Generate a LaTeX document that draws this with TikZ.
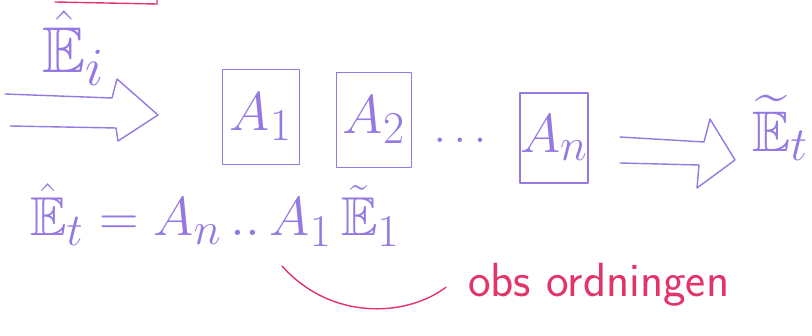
\documentclass[tikz,border=0pt]{standalone}
\usepackage{amsmath, amssymb}
\usepackage{graphicx}
\usepackage{tikz}
\usetikzlibrary{positioning, calc}
\usepackage{xcolor}
\definecolor{inkpurple}{HTML}{9479E3}
\definecolor{inkred}{HTML}{E3346A}
\newcommand{\inkbig}[2][2.2]{\scalebox{#1}{\Huge #2}}

\begin{document}
\begin{tikzpicture}[
      x=1pt, y=-1pt,
      pen/.style={draw=inkpurple, line width=1.4pt, line cap=round, line join=round},
      redpen/.style={draw=inkred, line width=1.4pt, line cap=round},
      op/.style={pen, inner sep=0pt, text=inkpurple},
      ink/.style={text=inkpurple, inner sep=0pt},
      note/.style={text=inkred, inner sep=0pt, font=\sffamily\fontsize{48}{54}\selectfont}
    ]
    \useasboundingbox (0,0) rectangle (812,336);
    % red box cut off at the top
    \draw[redpen] (55,2) -- (157,4) -- (157,-8);
    \node[ink] (ein) at (74,48) {\inkbig[2.6]{$\hat{\mathbb{E}}_{i}$}};
    % operator boxes
    \node[op, minimum width=77, minimum height=95] (a1) at (261,117) {\inkbig{$A_1$}};
    \node[op, minimum width=75, minimum height=95] (a2) at (374,120) {\inkbig{$A_2$}};
    \node[ink] (dots) at (460,140) {\inkbig[1.85]{$\ldots$}};
    \node[op, minimum width=55, minimum height=90] (an) at (554,138) {\inkbig{$A_n$}};
    \node[ink, anchor=west] (eout) at (752,128) {\inkbig[2.3]{$\widetilde{\mathbb{E}}_t$}};
    % hollow arrows
    \draw[pen] (5,94) -- (112,98) -- (117,79) -- (158,115) -- (118,141)
      -- (116,128) -- (10,126);
    \draw[pen] (620,137) -- (704,142) -- (710,119) -- (735,160) -- (697,188)
      -- (699,165) -- (620,163);
    % relation below
    \node[ink, anchor=base west] (eq) at (30,236)
      {\inkbig{$\hat{\mathbb{E}}_t = A_n \,..\, A_1\, \tilde{\mathbb{E}}_1$}};
    \node[note, anchor=base west] (obs) at (468,297) {obs ordningen};
    \coordinate (mark) at (282,266);
    \draw[redpen] (mark) .. controls (330,320) and (405,318) .. ($(obs.west)+(-22,2)$);
  \end{tikzpicture}
\end{document}
